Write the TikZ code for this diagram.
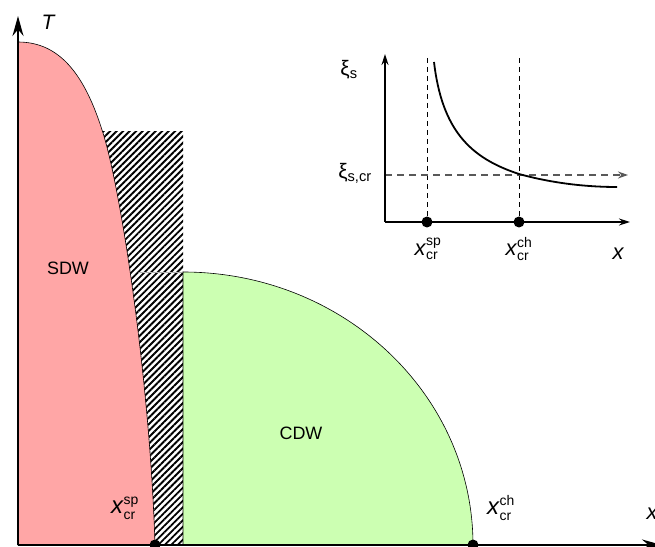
\documentclass[tikz,border=0pt]{standalone}
\usepackage{fontspec}
\usepackage{amsmath}
\setmainfont{Liberation Sans}
\usetikzlibrary{arrows.meta,patterns.meta}
\definecolor{sdwred}{RGB}{255,166,166}
\definecolor{cdwgreen}{RGB}{204,255,178}
\newcommand{\xcrit}[1]{\textit{x}$^{\text{\fontsize{14}{14}\selectfont #1}}_{\text{\fontsize{14}{14}\selectfont cr}}$}
\tikzset{
  axis/.style={line width=2bp,-{Stealth[length=20bp,width=11bp]}},
  inaxis/.style={line width=1.4bp,-{Stealth[length=11bp,width=7bp]}},
  guide/.style={dashed,line width=1bp,dash pattern=on 5bp off 4bp},
  crit/.style={circle,fill=black,inner sep=0pt,minimum size=11bp},
  biglabel/.style={font=\fontsize{24}{27}\selectfont,inner sep=0pt},
  smalllabel/.style={font=\fontsize{22}{25}\selectfont,inner sep=0pt},
  phase/.style={font=\fontsize{18}{21}\selectfont,inner sep=0pt}
}
\begin{document}
\begin{tikzpicture}[x=1bp,y=-1bp]
  \useasboundingbox (0,0) rectangle (655,547);
  % main diagram
  \coordinate (o) at (18,545);
  \coordinate (ttop) at (18,16);
  \coordinate (xend) at (662,545);
  \fill[pattern={Lines[angle=45,distance=4.6bp,line width=1.9bp]}] (98,132) rectangle (183,545);
  \draw[fill=sdwred,line width=0.6bp] (18,545) -- (18,42)
    .. controls (60,42) and (85,75) .. (103,133)
    .. controls (121,190) and (150,380) .. (155,545) -- cycle;
  \draw[gray!60,line width=0.5bp] (140,272) -- (183,272);
  \draw[fill=cdwgreen,line width=0.6bp] (183,545) -- (183,272)
    arc[start angle=-90,end angle=0,x radius=290,y radius=273] -- cycle;
  \draw[axis] (o) -- (ttop);
  \draw[axis] (o) -- (xend);
  \node[crit] (sp) at (155,545) {};
  \node[crit] (ch) at (473,545) {};
  \node[font=\fontsize{21}{24}\selectfont\itshape] (tlab) at (48,22) {T};
  \node[font=\fontsize{22}{25}\selectfont\itshape] (xlab) at (652,514) {x};
  \node[phase] (sdw) at (68,268) {SDW};
  \node[phase] (cdw) at (301,433) {CDW};
  \node[biglabel] (splab) at (125,508) {\xcrit{sp}};
  \node[biglabel] (chlab) at (501,508) {\xcrit{ch}};
  % inset
  \coordinate (io) at (385,222);
  \coordinate (itop) at (385,54);
  \coordinate (iend) at (630,222);
  \draw[guide] (427,58) -- (427,222);
  \draw[guide] (519,58) -- (519,222);
  \draw[guide,black!65,line width=1.4bp,dash pattern=on 7bp off 5bp,-{Stealth[length=10bp,width=7bp]}] (385,175) -- (628,175);
  \draw[line width=1.8bp] (434,62) .. controls (442,130) and (470,158) .. (519,174)
    .. controls (555,184) and (590,187) .. (617,187);
  \draw[inaxis] (io) -- (itop);
  \draw[inaxis] (io) -- (iend);
  \node[crit] (isp) at (427,222) {};
  \node[crit] (ich) at (519,222) {};
  \node[font=\fontsize{21}{24}\selectfont,inner sep=0pt] (xis) at (349,70) {ξ$_{\text{s}}$};
  \node[font=\fontsize{21}{24}\selectfont,inner sep=0pt] (xiscr) at (355,173) {ξ$_{\text{s,cr}}$};
  \node[smalllabel] (isplab) at (428,249) {\xcrit{sp}};
  \node[smalllabel] (ichlab) at (519,249) {\xcrit{ch}};
  \node[font=\fontsize{22}{25}\selectfont\itshape] (ixlab) at (618,254) {x};
\end{tikzpicture}
\end{document}
